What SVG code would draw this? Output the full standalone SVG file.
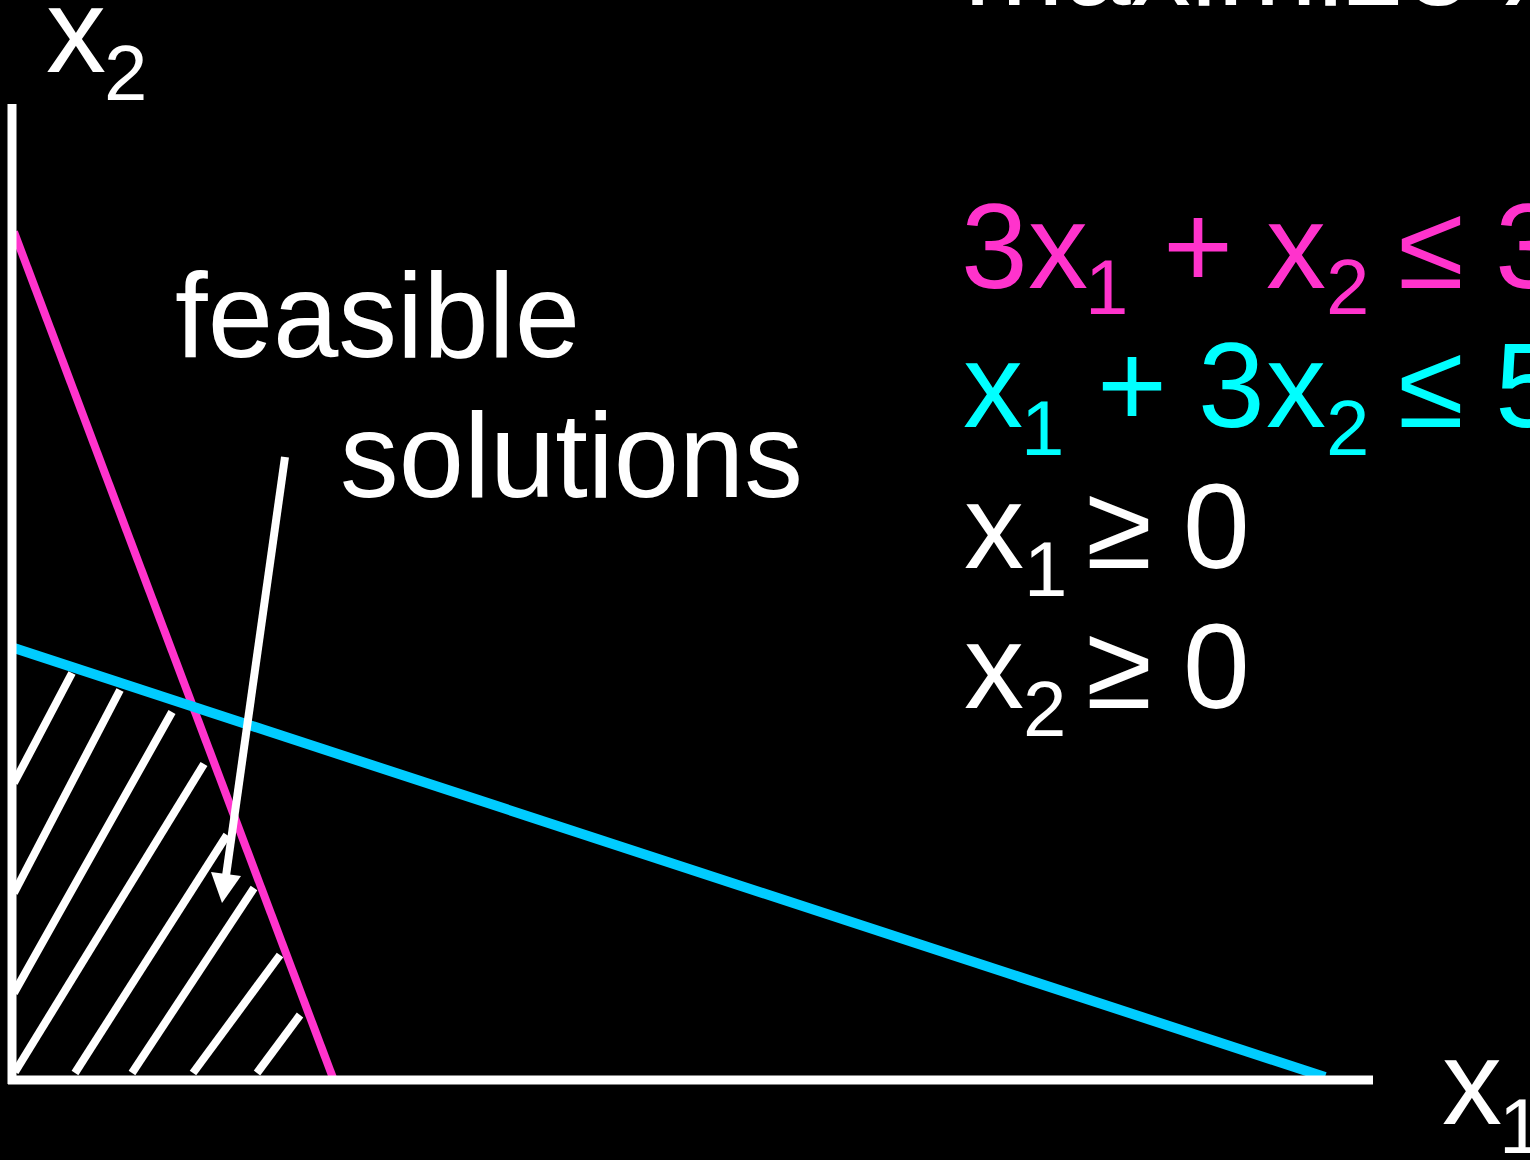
<svg xmlns="http://www.w3.org/2000/svg" width="1530" height="1160" viewBox="0 0 1530 1160">
<style>
text{font-family:"Liberation Sans",Arial,sans-serif;font-size:120px;fill:#fff}
.sub{font-size:78px}
.pk{fill:#FF33CC}
.cy{fill:#00FFFF}
.ax{stroke:#fff;stroke-width:9;fill:none}
.h{stroke:#fff;stroke-width:8;fill:none}
</style>
<rect x="0" y="0" width="1530" height="1160" fill="#000"/>
<g id="title"><text x="964" y="5">maximize x</text></g>
<g id="hatch">
<line class="h" x1="72" y1="673" x2="14" y2="783"/>
<line class="h" x1="120" y1="690" x2="14" y2="893"/>
<line class="h" x1="172" y1="712" x2="14" y2="993"/>
<line class="h" x1="204" y1="764" x2="15" y2="1072"/>
<line class="h" x1="227" y1="835" x2="75" y2="1073"/>
<line class="h" x1="254" y1="888" x2="132" y2="1073"/>
<line class="h" x1="280" y1="955" x2="193" y2="1073"/>
<line class="h" x1="300" y1="1015" x2="257" y2="1073"/>
</g>
<g id="constraints">
<line x1="14" y1="232" x2="333" y2="1078" stroke="#FF33CC" stroke-width="8"/>
<line x1="14" y1="648" x2="1325" y2="1077" stroke="#00CCFF" stroke-width="10"/>
</g>
<g id="axes">
<line class="ax" x1="12" y1="104" x2="12" y2="1084"/>
<line class="ax" x1="8" y1="1080" x2="1373" y2="1080" stroke-width="10"/>
</g>
<g id="connectors">
<line x1="285" y1="457" x2="226" y2="876" stroke="#fff" stroke-width="8"/>
<polygon points="211,872 241,876 222,903" fill="#fff"/>
</g>
<g id="x2label"><text x="46" y="72">x</text><text class="sub" x="104" y="100">2</text></g>
<g id="x1label"><text x="1442" y="1124">x</text><text class="sub" x="1499" y="1153">1</text></g>
<g id="feasible"><text x="175" y="357" textLength="405" lengthAdjust="spacingAndGlyphs">feasible</text><text x="340" y="497" textLength="463" lengthAdjust="spacingAndGlyphs">solutions</text></g>
<g id="eq1">
<text class="pk" x="961" y="288">3</text>
<text class="pk" x="1028" y="288">x</text>
<text class="pk sub" x="1085" y="314">1</text>
<text class="pk" x="1163" y="288">+</text>
<text class="pk" x="1266" y="288">x</text>
<text class="pk sub" x="1326" y="314">2</text>
<text class="pk" x="1398" y="288">≤</text>
<text class="pk" x="1495" y="288">3</text>
</g>
<g id="eq2">
<text class="cy" x="963" y="427">x</text>
<text class="cy sub" x="1021" y="455">1</text>
<text class="cy" x="1097" y="427">+</text>
<text class="cy" x="1198" y="427">3</text>
<text class="cy" x="1266" y="427">x</text>
<text class="cy sub" x="1326" y="455">2</text>
<text class="cy" x="1398" y="427">≤</text>
<text class="cy" x="1495" y="427">5</text>
</g>
<g id="eq3">
<text x="964" y="568">x</text>
<text class="sub" x="1024" y="596">1</text>
<text x="1086" y="568">≥</text>
<text x="1183" y="568">0</text>
</g>
<g id="eq4">
<text x="964" y="708">x</text>
<text class="sub" x="1023" y="736">2</text>
<text x="1086" y="708">≥</text>
<text x="1183" y="708">0</text>
</g>
</svg>
